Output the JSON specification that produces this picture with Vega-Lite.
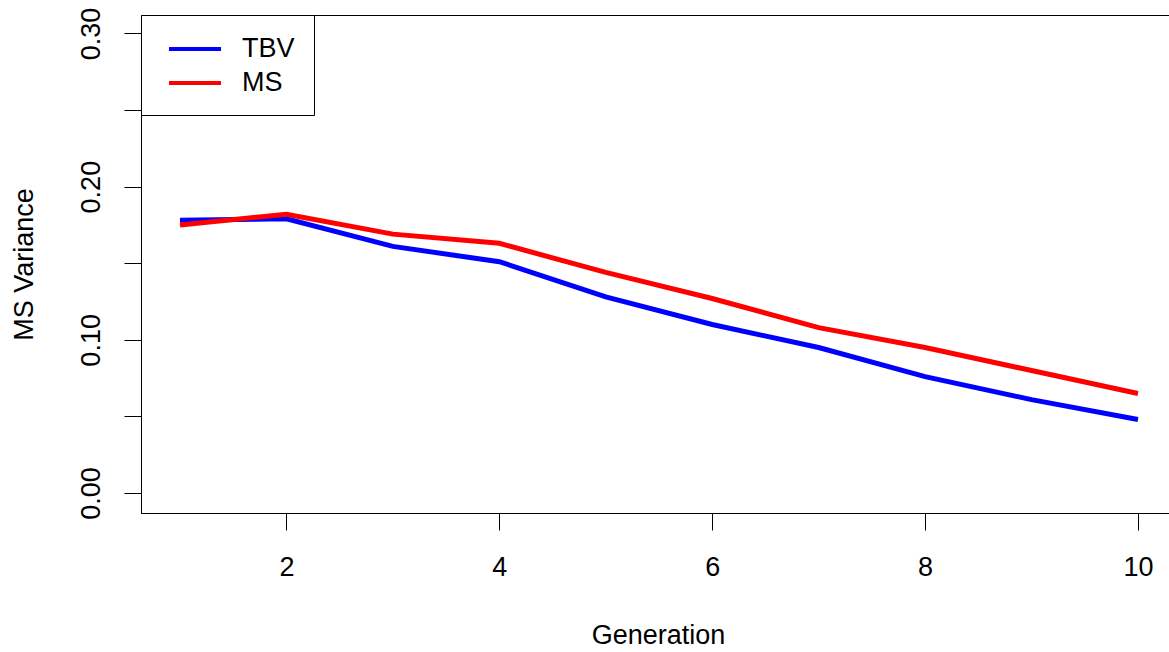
{
  "$schema": "https://vega.github.io/schema/vega-lite/v6.json",
  "autosize": "none",
  "padding": {"left": 141, "top": 15, "right": 0, "bottom": 139},
  "width": 1029,
  "height": 498,
  "background": "white",
  "config": {
    "font": "Liberation Sans",
    "view": {"stroke": "black", "strokeWidth": 1},
    "axis": {
      "grid": false,
      "domainColor": "black",
      "tickColor": "black",
      "tickSize": 17,
      "labelFont": "Liberation Sans",
      "labelFontSize": 27,
      "labelColor": "black",
      "titleFont": "Liberation Sans",
      "titleFontSize": 27,
      "titleFontWeight": "normal",
      "titleColor": "black"
    }
  },
  "data": {
    "values": [
      {"gen": 1, "series": "TBV", "v": 0.178},
      {"gen": 2, "series": "TBV", "v": 0.179},
      {"gen": 3, "series": "TBV", "v": 0.161},
      {"gen": 4, "series": "TBV", "v": 0.151},
      {"gen": 5, "series": "TBV", "v": 0.128},
      {"gen": 6, "series": "TBV", "v": 0.110},
      {"gen": 7, "series": "TBV", "v": 0.095},
      {"gen": 8, "series": "TBV", "v": 0.076},
      {"gen": 9, "series": "TBV", "v": 0.061},
      {"gen": 10, "series": "TBV", "v": 0.048},
      {"gen": 1, "series": "MS", "v": 0.175},
      {"gen": 2, "series": "MS", "v": 0.182},
      {"gen": 3, "series": "MS", "v": 0.169},
      {"gen": 4, "series": "MS", "v": 0.163},
      {"gen": 5, "series": "MS", "v": 0.144},
      {"gen": 6, "series": "MS", "v": 0.127},
      {"gen": 7, "series": "MS", "v": 0.108},
      {"gen": 8, "series": "MS", "v": 0.095},
      {"gen": 9, "series": "MS", "v": 0.080},
      {"gen": 10, "series": "MS", "v": 0.065}
    ]
  },
  "mark": {"type": "line", "strokeWidth": 5, "clip": true},
  "encoding": {
    "x": {
      "field": "gen",
      "type": "quantitative",
      "scale": {"domain": [0.6336, 10.301], "nice": false, "zero": false},
      "axis": {
        "title": "Generation",
        "values": [2, 4, 6, 8, 10],
        "labelBaseline": "alphabetic",
        "labelPadding": 45,
        "titleBaseline": "alphabetic",
        "titleY": 130,
        "titleX": 517
      }
    },
    "y": {
      "field": "v",
      "type": "quantitative",
      "scale": {"domain": [-0.013, 0.312], "nice": false, "zero": false},
      "axis": {
        "title": "MS Variance",
        "values": [0, 0.05, 0.1, 0.15, 0.2, 0.25, 0.3],
        "labelExpr": "indexof(['0.00','0.10','0.20','0.30'], format(datum.value, '.2f')) >= 0 ? format(datum.value, '.2f') : ''",
        "labelAngle": -90,
        "labelAlign": "center",
        "labelBaseline": "alphabetic",
        "labelPadding": 25,
        "titleAngle": -90,
        "titleBaseline": "alphabetic",
        "titleX": -109
      }
    },
    "color": {
      "field": "series",
      "type": "nominal",
      "scale": {"domain": ["TBV", "MS"], "range": ["#0000FF", "#FF0000"]},
      "legend": {
        "title": null,
        "orient": "none",
        "legendX": 0,
        "legendY": 0,
        "fillColor": "white",
        "strokeColor": "black",
        "padding": 19,
        "symbolType": "M-2,0H2",
        "symbolSize": 676,
        "symbolStrokeWidth": 4,
        "symbolOffset": 20,
        "labelOffset": 32,
        "labelFont": "Liberation Sans",
        "labelFontSize": 27,
        "labelColor": "black",
        "labelBaseline": "middle",
        "rowPadding": 6
      }
    }
  }
}
